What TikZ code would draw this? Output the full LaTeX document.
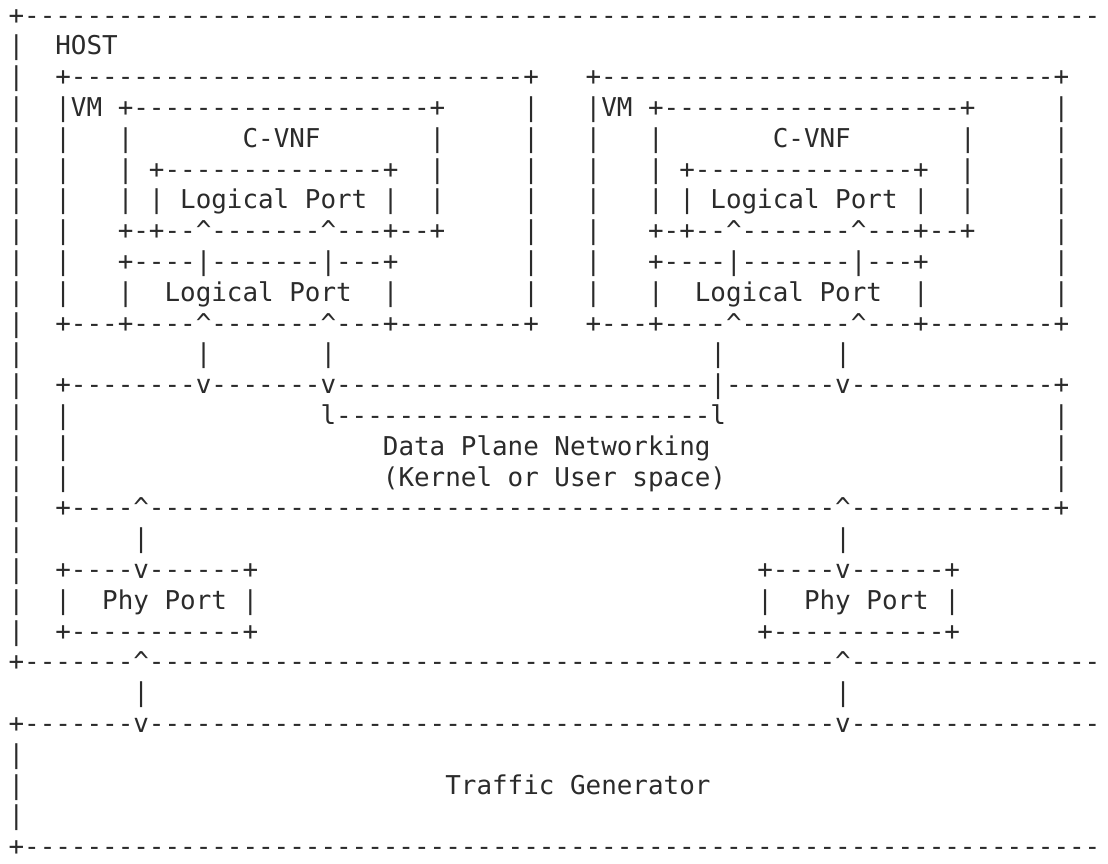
\documentclass[tikz,border=0pt]{standalone}
\usepackage{fontspec}
\setmonofont{DejaVu Sans Mono}
\usepackage{tikz}

\definecolor{asciiInk}{HTML}{2B2B2B}
\newcommand\blank[1]{\hbox to #1\fontcharwd\font`\x{}}
\newcommand\dashrun[1]{\foreach\k in {1,...,#1}{-}}
\newcommand\caret{\textasciicircum}

\tikzset{ascii/.style={anchor=base west, inner sep=0pt, outer sep=0pt, text=asciiInk,
    font=\ttfamily\fontsize{19.43}{23.1}\selectfont\frenchspacing}}

\begin{document}
\begin{tikzpicture}[x=11.7pt, y=23.1pt]
    % one unit = one character cell, one row per line
    \useasboundingbox (-0.5513,-0.2208) rectangle (70.474,-28.240);
    \fill [white] (-0.5513,-0.2208) rectangle (70.474,-28.240);
    % host with the two VMs
    \node [ascii] (hostTop) at (0,-1) {+\dashrun{69}};
    \node [ascii] (hostLabel) at (0,-2) {|\blank{2}HOST};
    \node [ascii] (vmTop) at (0,-3) {|\blank{2}+\dashrun{29}+\blank{3}+\dashrun{29}+};
    \node [ascii] (vmHead) at (0,-4) {|\blank{2}|VM\blank{1}+\dashrun{19}+\blank{5}|\blank{3}|VM\blank{1}+\dashrun{19}+\blank{5}|};
    \node [ascii] (vnfLabel) at (0,-5) {|\blank{2}|\blank{3}|\blank{7}C-VNF\blank{7}|\blank{5}|\blank{3}|\blank{3}|\blank{7}C-VNF\blank{7}|\blank{5}|};
    \node [ascii] (lpTop) at (0,-6) {|\blank{2}|\blank{3}|\blank{1}+\dashrun{14}+\blank{2}|\blank{5}|\blank{3}|\blank{3}|\blank{1}+\dashrun{14}+\blank{2}|\blank{5}|};
    \node [ascii] (lpLabel) at (0,-7) {|\blank{2}|\blank{3}|\blank{1}|\blank{1}Logical Port\blank{1}|\blank{2}|\blank{5}|\blank{3}|\blank{3}|\blank{1}|\blank{1}Logical Port\blank{1}|\blank{2}|\blank{5}|};
    \node [ascii] (vnfBottom) at (0,-8) {|\blank{2}|\blank{3}+-+\dashrun{2}\caret\dashrun{7}\caret\dashrun{3}+\dashrun{2}+\blank{5}|\blank{3}|\blank{3}+-+\dashrun{2}\caret\dashrun{7}\caret\dashrun{3}+\dashrun{2}+\blank{5}|};
    \node [ascii] (vportTop) at (0,-9) {|\blank{2}|\blank{3}+\dashrun{4}|\dashrun{7}|\dashrun{3}+\blank{8}|\blank{3}|\blank{3}+\dashrun{4}|\dashrun{7}|\dashrun{3}+\blank{8}|};
    \node [ascii] (vportLabel) at (0,-10) {|\blank{2}|\blank{3}|\blank{2}Logical Port\blank{2}|\blank{8}|\blank{3}|\blank{3}|\blank{2}Logical Port\blank{2}|\blank{8}|};
    \node [ascii] (vmBottom) at (0,-11) {|\blank{2}+\dashrun{3}+\dashrun{4}\caret\dashrun{7}\caret\dashrun{3}+\dashrun{8}+\blank{3}+\dashrun{3}+\dashrun{4}\caret\dashrun{7}\caret\dashrun{3}+\dashrun{8}+};
    \node [ascii] (vmLinks) at (0,-12) {|\blank{11}|\blank{7}|\blank{24}|\blank{7}|};
    % data plane
    \node [ascii] (dpTop) at (0,-13) {|\blank{2}+\dashrun{8}v\dashrun{7}v\dashrun{24}|\dashrun{7}v\dashrun{13}+};
    \node [ascii] (dpBridge) at (0,-14) {|\blank{2}|\blank{16}l\dashrun{24}l\blank{21}|};
    \node [ascii] (dpLabel) at (0,-15) {|\blank{2}|\blank{20}Data Plane Networking\blank{22}|};
    \node [ascii] (dpSpace) at (0,-16) {|\blank{2}|\blank{20}(Kernel or User space)\blank{21}|};
    \node [ascii] (dpBottom) at (0,-17) {|\blank{2}+\dashrun{4}\caret\dashrun{44}\caret\dashrun{13}+};
    \node [ascii] (phyLinks) at (0,-18) {|\blank{7}|\blank{44}|};
    % physical ports
    \node [ascii] (phyTop) at (0,-19) {|\blank{2}+\dashrun{4}v\dashrun{6}+\blank{32}+\dashrun{4}v\dashrun{6}+};
    \node [ascii] (phyLabel) at (0,-20) {|\blank{2}|\blank{2}Phy Port |\blank{32}|\blank{2}Phy Port |};
    \node [ascii] (phyBottom) at (0,-21) {|\blank{2}+\dashrun{11}+\blank{32}+\dashrun{11}+};
    \node [ascii] (hostBottom) at (0,-22) {+\dashrun{7}\caret\dashrun{44}\caret\dashrun{16}};
    % traffic generator
    \node [ascii] (tgLinks) at (0,-23) {\blank{8}|\blank{44}|};
    \node [ascii] (tgTop) at (0,-24) {+\dashrun{7}v\dashrun{44}v\dashrun{16}};
    \node [ascii] (tgPadA) at (0,-25) {|};
    \node [ascii] (tgLabel) at (0,-26) {|\blank{27}Traffic Generator};
    \node [ascii] (tgPadB) at (0,-27) {|};
    \node [ascii] (tgBottom) at (0,-28) {+\dashrun{69}};
\end{tikzpicture}
\end{document}
